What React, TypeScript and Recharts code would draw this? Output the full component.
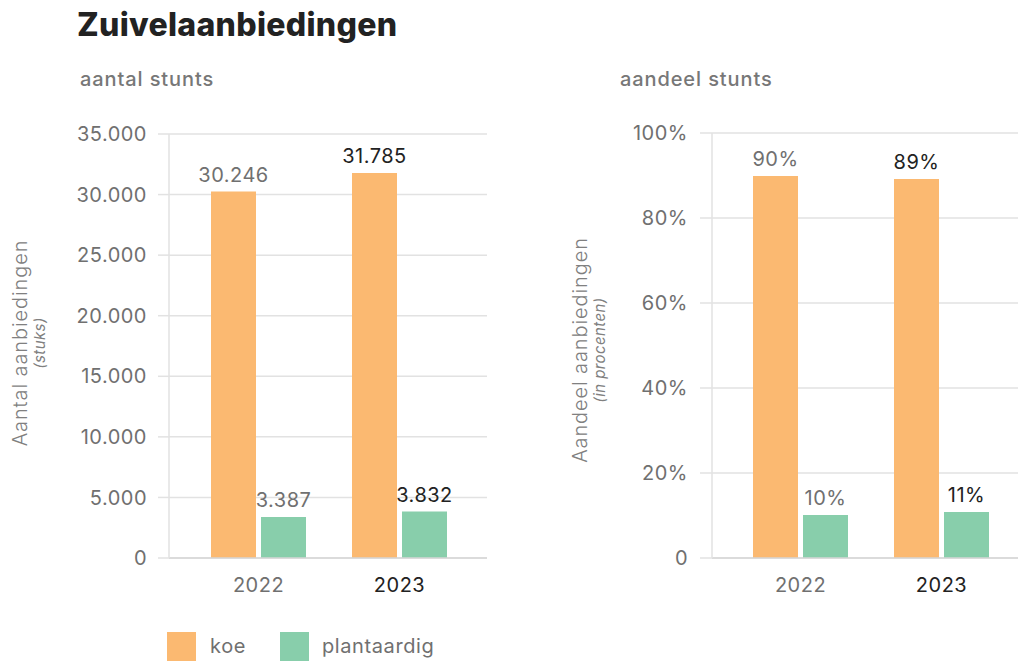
import React from "react"
import { Bar, BarChart, CartesianGrid, XAxis, YAxis } from "recharts"

const years = ["2022", "2023"]
const koeAantal = [30246, 31785]
const plantAantal = [3387, 3832]
const koeAandeel = [89.9, 89.2]
const plantAandeel = [10.1, 10.8]
const aantalTicks = [0, 5000, 10000, 15000, 20000, 25000, 30000, 35000]
const aandeelTicks = [0, 20, 40, 60, 80, 100]

const aantalData = years.map((year, i) => ({ year, koe: koeAantal[i], plant: plantAantal[i] }))
const aandeelData = years.map((year, i) => ({ year, koe: koeAandeel[i], plant: plantAandeel[i] }))

const ORANGE = "#fbb971"
const GREEN = "#88ceab"
const GRID = "#e2e2e2"
const FONT = "Inter, 'Noto Sans', sans-serif"

const fmtThousands = (v: number) => String(v).replace(/\B(?=(\d{3})+(?!\d))/g, ".")
const fmtPct = (v: number) => (v === 0 ? "0" : `${Math.round(v)}%`)

const yearColor = (i: number) => (i === 1 ? "#222" : "#707070")

function XTick(props: any) {
  const { x, y, payload, index } = props
  return (
    <text x={x} y={y} dy={14} textAnchor="middle" fontSize={20} fontFamily={FONT} letterSpacing={0.5}
      fill={yearColor(index)}>
      {payload.value}
    </text>
  )
}

function makeLabel(fmt: (v: number) => string) {
  return (props: any) => {
    const { x, y, width, value, index } = props
    return (
      <text x={x + width / 2} y={y - 10} textAnchor="middle" fontSize={20} fontFamily={FONT} letterSpacing={0.5}
        fill={yearColor(index)}>
        {fmt(value)}
      </text>
    )
  }
}

const yTickStyle = { fontSize: 20, fill: "#707070", fontFamily: FONT, letterSpacing: 0.5 }

function AxisTitle({ cx, cy, main, sub }: { cx: number; cy: number; main: string; sub: string }) {
  return (
    <div style={{
      position: "absolute", left: cx, top: cy, width: 300, textAlign: "center",
      transform: "translate(-50%, -50%) rotate(-90deg)", color: "#808080", fontFamily: FONT, lineHeight: "20px",
    }}>
      <div style={{ fontSize: 20, letterSpacing: 0.9, fontWeight: 300 }}>{main}</div>
      <div style={{ fontSize: 15, fontStyle: "italic", letterSpacing: 0.4 }}>{sub}</div>
    </div>
  )
}

export default function App() {
  return (
    <div style={{ position: "absolute", left: 0, top: 0, width: 1018, height: 661, background: "#fff", overflow: "hidden", fontFamily: FONT }}>
      <div style={{ position: "absolute", left: 77, top: 5, fontSize: 32, fontWeight: 800, color: "#222", letterSpacing: 0.3 }}>
        Zuivelaanbiedingen
      </div>
      <div style={{ position: "absolute", left: 80, top: 67, fontSize: 20, fontWeight: 500, color: "#777", letterSpacing: 0.9 }}>aantal stunts</div>
      <div style={{ position: "absolute", left: 620, top: 67, fontSize: 20, fontWeight: 500, color: "#777", letterSpacing: 0.9 }}>aandeel stunts</div>

      <AxisTitle cx={30} cy={343} main="Aantal aanbiedingen" sub="(stuks)" />
      <AxisTitle cx={590} cy={350} main="Aandeel aanbiedingen" sub="(in procenten)" />

      <div style={{ position: "absolute", left: 0, top: 0 }}>
        <BarChart width={490} height={620} data={aantalData} barGap={5} barSize={45}
          margin={{ top: 134, right: 3, bottom: 22, left: 0 }}>
          <CartesianGrid vertical={false} stroke={GRID} strokeWidth={1.5} />
          <XAxis dataKey="year" height={40} tick={<XTick />} tickLine={false} tickSize={0} tickMargin={20}
            axisLine={{ stroke: "#d6d6d6", strokeWidth: 1.5 }} padding={{ left: 19, right: 17 }} />
          <YAxis width={169} domain={[0, 35000]} ticks={aantalTicks} tickFormatter={fmtThousands}
            tick={yTickStyle} tickSize={11} tickMargin={11} tickLine={{ stroke: GRID, strokeWidth: 1.5 }}
            axisLine={{ stroke: GRID, strokeWidth: 1.5 }} />
          <Bar dataKey="koe" fill={ORANGE} isAnimationActive={false} label={makeLabel(fmtThousands)} />
          <Bar dataKey="plant" fill={GREEN} isAnimationActive={false} label={makeLabel(fmtThousands)} />
        </BarChart>
      </div>

      <div style={{ position: "absolute", left: 540, top: 0 }}>
        <BarChart width={478} height={620} data={aandeelData} barGap={5} barSize={45}
          margin={{ top: 133, right: 0, bottom: 22, left: 0 }}>
          <CartesianGrid vertical={false} stroke={GRID} strokeWidth={1.5} />
          <XAxis dataKey="year" height={40} tick={<XTick />} tickLine={false} tickSize={0} tickMargin={20}
            axisLine={{ stroke: "#d6d6d6", strokeWidth: 1.5 }} padding={{ left: 18, right: 6 }} />
          <YAxis width={172} domain={[0, 100]} ticks={aandeelTicks} tickFormatter={fmtPct}
            tick={yTickStyle} tickSize={12} tickMargin={12} tickLine={{ stroke: GRID, strokeWidth: 1.5 }}
            axisLine={{ stroke: GRID, strokeWidth: 1.5 }} />
          <Bar dataKey="koe" fill={ORANGE} isAnimationActive={false} label={makeLabel(fmtPct)} />
          <Bar dataKey="plant" fill={GREEN} isAnimationActive={false} label={makeLabel(fmtPct)} />
        </BarChart>
      </div>

      <div style={{ position: "absolute", left: 167, top: 632, width: 29, height: 29, background: ORANGE }} />
      <div style={{ position: "absolute", left: 210, top: 634, fontSize: 20, color: "#707070", letterSpacing: 0.6 }}>koe</div>
      <div style={{ position: "absolute", left: 280, top: 632, width: 29, height: 29, background: GREEN }} />
      <div style={{ position: "absolute", left: 322, top: 634, fontSize: 20, color: "#707070", letterSpacing: 0.6 }}>plantaardig</div>
    </div>
  )
}
